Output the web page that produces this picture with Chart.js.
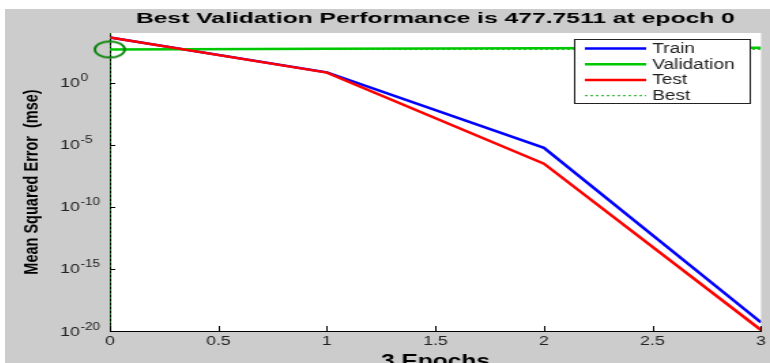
<!DOCTYPE html>
<html>
<head>
<meta charset="utf-8">
<script src="https://cdn.jsdelivr.net/npm/chart.js@4.4.1/dist/chart.umd.min.js"></script>
<style>
html, body { margin: 0; background: #fff; overflow: hidden; }
#wrap { position: absolute; left: 5px; top: 9px; width: 765px; height: 354px; background: #cccccc; overflow: hidden; }
</style>
</head>
<body>
<!-- the source figure is a horizontally stretched matlab plot, so the canvas is stretched the same way -->
<div id="wrap"><canvas id="perf" width="562" height="362" style="width:765px;height:362px"></canvas></div>
<script>
// performance data
var epochs = [0, 1, 2, 3];
var trainMse = [4350, 6.8, 5.6e-6, 5e-20];
var validationMse = [477.7511, 530, 590, 640];
var testMse = [4400, 6.5, 3e-7, 1.2e-20];
var bestEpoch = 0;
var bestPerf = 477.7511;
var xTicks = [0, 0.5, 1, 1.5, 2, 2.5, 3];
var yTicks = [1e-20, 1e-15, 1e-10, 1e-5, 1e0];
var xRange = [0, 3];
var yRange = [1e-20, 1e4];
var legendNames = ['Train', 'Validation', 'Test', 'Best'];
var titleText = 'Best Validation Performance is 477.7511 at epoch 0';

var FONT = '"Liberation Sans", Arial, sans-serif';

function pts(xs, ys) {
    return xs.map(function(x, i) { return {x: x, y: ys[i]}; });
}

// ellipse marker for best epoch
var ring = document.createElement('canvas');
ring.width = 26; ring.height = 20;
(function() {
    var c = ring.getContext('2d');
    c.strokeStyle = '#008000';
    c.lineWidth = 1.8;
    c.beginPath();
    c.ellipse(13, 10, 11, 8, 0, 0, Math.PI * 2);
    c.stroke();
})();

var plotBg = {
    id: 'plotBg',
    beforeDraw: function(chart) {
        var a = chart.chartArea, ctx = chart.ctx;
        ctx.save();
        ctx.fillStyle = '#ffffff';
        ctx.fillRect(a.left, a.top, a.right - a.left, a.bottom - a.top);

        // title centred over the axes, like matlab
        ctx.fillStyle = '#000';
        ctx.font = 'bold 15px ' + FONT;
        ctx.textBaseline = 'middle';
        ctx.textAlign = 'center';
        var w = ctx.measureText(titleText).width;
        var sx = 440 / w;
        ctx.translate((a.left + a.right) / 2, 10);
        ctx.scale(sx, 1);
        ctx.fillText(titleText, 0, 0);
        ctx.restore();
    }
};

// inward ticks, 10^n labels and the boxed legend
var extras = {
    id: 'extras',
    afterDatasetsDraw: function(chart) {
        var ctx = chart.ctx, a = chart.chartArea;
        var xs = chart.scales.x, ys = chart.scales.y;
        ctx.save();
        ctx.strokeStyle = '#000';
        ctx.lineWidth = 1;
        ctx.beginPath();
        xTicks.forEach(function(t) {
            var px = Math.round(xs.getPixelForValue(t)) + 0.5;
            ctx.moveTo(px, a.bottom); ctx.lineTo(px, a.bottom - 5);
        });
        yTicks.forEach(function(t) {
            var py = Math.round(ys.getPixelForValue(t)) + 0.5;
            ctx.moveTo(a.left, py); ctx.lineTo(a.left + 4, py);
        });
        ctx.stroke();

        ctx.fillStyle = '#222';
        ctx.textAlign = 'left';
        yTicks.forEach(function(t) {
            var py = ys.getPixelForValue(t);
            var lx = a.left - 36.5;
            ctx.font = '13px ' + FONT;
            ctx.textBaseline = 'middle';
            ctx.fillText('10', lx, py + 1);
            var w = ctx.measureText('10').width;
            ctx.font = '10px ' + FONT;
            ctx.textBaseline = 'alphabetic';
            ctx.fillText(String(Math.round(Math.log10(t))), lx + w + 0.5, py - 1.5);
        });

        var bw = 129, bh = 64;
        var bx = Math.round(a.right - 8 - bw), by = a.top + 6;
        ctx.fillStyle = '#fff';
        ctx.fillRect(bx, by, bw, bh);
        ctx.strokeStyle = '#222';
        ctx.strokeRect(bx + 0.5, by + 0.5, bw, bh);
        ctx.font = '14px ' + FONT;
        ctx.textBaseline = 'middle';
        ctx.fillStyle = '#222';
        var sets = chart.data.datasets;
        for (var i = 0; i < legendNames.length; i++) {
            var ds = sets[i];
            var ly = by + 9.5 + i * 15.7;
            ctx.strokeStyle = ds.borderColor;
            ctx.lineWidth = ds.borderDash ? 1.3 : 2.5;
            ctx.setLineDash(ds.borderDash || []);
            ctx.beginPath();
            ctx.moveTo(bx + 8, ly); ctx.lineTo(bx + 53, ly);
            ctx.stroke();
            ctx.setLineDash([]);
            ctx.fillText(legendNames[i], bx + 57.5, ly + 0.5);
        }
        ctx.restore();
    }
};

var chart = new Chart(document.getElementById('perf'), {
    type: 'line',
    data: {
        datasets: [
            { label: 'Train', data: pts(epochs, trainMse), borderColor: '#0000ff', borderWidth: 2.5, pointRadius: 0, order: 3 },
            { label: 'Validation', data: pts(epochs, validationMse), borderColor: '#00c800', borderWidth: 2.5, pointRadius: 0, order: 2 },
            { label: 'Test', data: pts(epochs, testMse), borderColor: '#ff0000', borderWidth: 2.5, pointRadius: 0, order: 1 },
            { label: 'Best', data: [{x: xRange[0], y: bestPerf}, {x: xRange[1], y: bestPerf}], borderColor: '#44bb44', borderWidth: 1.3, borderDash: [2, 2], pointRadius: 0, order: 4 },
            { label: 'BestV', data: [{x: bestEpoch, y: yRange[0]}, {x: bestEpoch, y: yRange[1]}], borderColor: '#229922', borderWidth: 1.2, borderDash: [2, 2], pointRadius: 0, order: 0 },
            { label: 'BestPt', data: [{x: bestEpoch, y: bestPerf}], showLine: false, pointStyle: ring, pointRadius: 10, clip: false, order: 0 }
        ]
    },
    options: {
        responsive: false,
        animation: false,
        layout: { autoPadding: false, padding: { left: 0, right: 0, top: 24, bottom: 0 } },
        plugins: {
            legend: { display: false },
            tooltip: { enabled: false },
            title: { display: false }
        },
        scales: {
            x: {
                type: 'linear',
                min: xRange[0],
                max: xRange[1],
                grid: { display: false, drawTicks: false },
                border: { display: true, color: '#000', width: 1 },
                afterBuildTicks: function(s) { s.ticks = xTicks.map(function(v) { return {value: v}; }); },
                afterFit: function(s) { s.height = 40; },
                ticks: {
                    color: '#222',
                    padding: 3,
                    maxRotation: 0,
                    font: { family: FONT, size: 13 },
                    callback: function(v) { return String(v); }
                },
                title: {
                    display: true,
                    text: '3 Epochs',
                    color: '#000',
                    font: { family: FONT, size: 18, weight: 'bold', lineHeight: 1 },
                    padding: { top: 3, bottom: 0 }
                }
            },
            y: {
                type: 'logarithmic',
                min: yRange[0],
                max: yRange[1],
                grid: { display: false, drawTicks: false },
                border: { display: true, color: '#000', width: 1 },
                afterBuildTicks: function(s) { s.ticks = yTicks.map(function(v) { return {value: v}; }); },
                afterFit: function(s) { s.width = 77; },
                ticks: { display: false },
                title: {
                    display: true,
                    text: 'Mean Squared Error  (mse)',
                    color: '#000',
                    font: { family: FONT, size: 14.5, weight: 'bold', lineHeight: 1.2 },
                    padding: { top: 11.5, bottom: 0 }
                }
            }
        }
    },
    plugins: [plotBg, extras]
});
</script>
</body>
</html>
